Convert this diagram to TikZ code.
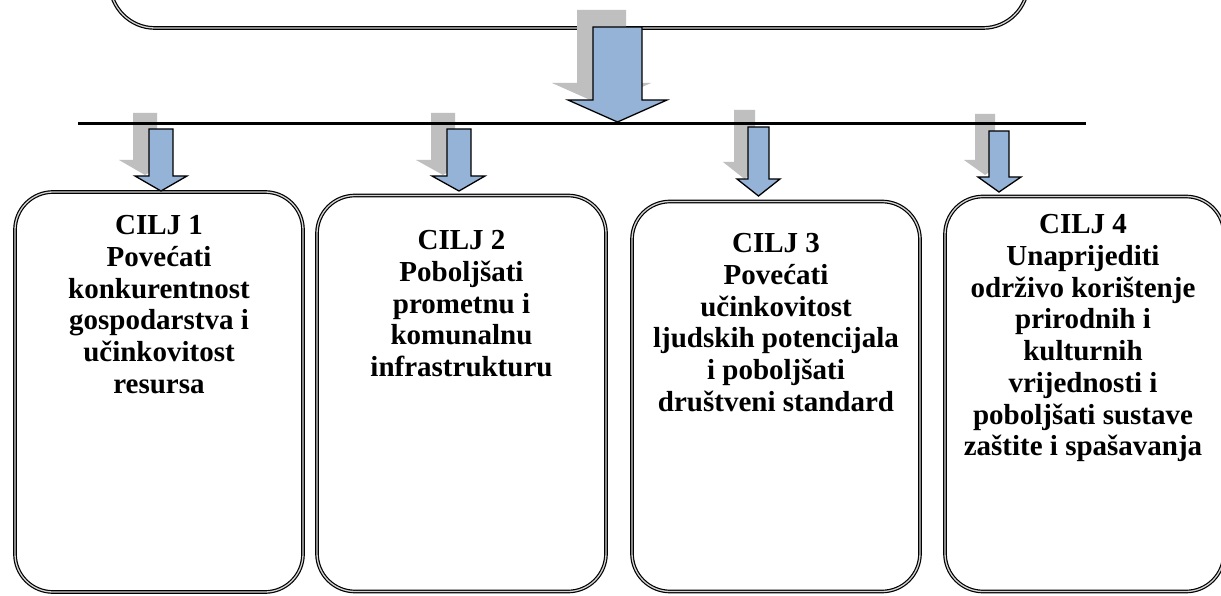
\documentclass[tikz,border=0pt]{standalone}
\usepackage{fontspec}
\setmainfont{Liberation Serif}
\definecolor{arrowblue}{HTML}{95B3D7}
\definecolor{shadowgray}{HTML}{BFBFBF}
\newcommand{\blockarrow}[8]{%
  \path[#1] (#2,#4) -- (#3,#4) -- (#3,#5) -- (#7,#5) -- ({(#2+#3)/2},#8) -- (#6,#5) -- (#2,#5) -- cycle;}
\begin{document}
\begin{tikzpicture}[x=1pt,y=-1pt,
  goalbox/.style={draw=black, line width=1.2pt, double=gray!35, double distance=1.3pt,
    rounded corners=38pt, rectangle, inner sep=0pt},
  bluearrow/.style={fill=arrowblue, draw=black, line width=1.3pt, line join=miter},
  shadowarrow/.style={fill=shadowgray, draw=none},
  goaltext/.style={anchor=north, align=center, inner sep=0pt,
    font=\bfseries\fontsize{29}{31.7}\selectfont}]
\useasboundingbox (0,0) rectangle (1221,596);
\fill[white] (0,0) rectangle (1221,596);
\clip (0,0) rectangle (1221,596);

% top box (only its lower part is visible)
\node[goalbox, rounded corners=45pt, minimum width=918pt, minimum height=226pt] (topbox) at (569,-85) {};

% goal boxes
\node[goalbox, minimum width=288pt, minimum height=400pt] (g1) at (159,392) {};
\node[goalbox, minimum width=289pt, minimum height=396pt] (g2) at (461.5,393.5) {};
\node[goalbox, minimum width=288pt, minimum height=390pt] (g3) at (776,396.5) {};
\node[goalbox, minimum width=279pt, minimum height=395pt] (g4) at (1084.5,394) {};

% texts
\node[goaltext] (t1) at (159,215.4) {CILJ 1\\Povećati\\konkurentnost\\gospodarstva i\\učinkovitost\\resursa};
\node[goaltext] (t2) at (461.5,230.4) {CILJ 2\\Poboljšati\\prometnu i\\komunalnu\\infrastrukturu};
\node[goaltext] (t3) at (776,233.4) {CILJ 3\\Povećati\\učinkovitost\\ljudskih potencijala\\i poboljšati\\društveni standard};
\node[goaltext] (t4) at (1083,214.4) {CILJ 4\\Unaprijediti\\održivo korištenje\\prirodnih i\\kulturnih\\vrijednosti i\\poboljšati sustave\\zaštite i spašavanja};

% main arrow
\blockarrow{shadowarrow, shift={(-16,-17)}}{593}{642}{27}{100}{568}{667}{122}
\blockarrow{bluearrow}{593}{642}{27}{100}{568}{667}{122}

% shadows of small arrows
\blockarrow{shadowarrow, shift={(-16,-16)}}{149}{173}{129}{176}{135}{187}{191}
\blockarrow{shadowarrow, shift={(-16,-16)}}{447}{471}{129}{176}{432}{485}{191}
\blockarrow{shadowarrow, shift={(-14,-17)}}{748}{769}{127}{179}{737}{780}{196}
\blockarrow{shadowarrow, shift={(-14,-17)}}{989}{1009}{131}{177}{978}{1021}{192}

% distribution line
\coordinate (lineL) at (78,124);
\coordinate (lineR) at (1086,124);
\draw[line width=3pt] (lineL) -- (lineR);

% small arrows
\blockarrow{bluearrow}{149}{173}{129}{176}{135}{187}{191}
\blockarrow{bluearrow}{447}{471}{129}{176}{432}{485}{191}
\blockarrow{bluearrow}{748}{769}{127}{179}{737}{780}{196}
\blockarrow{bluearrow}{989}{1009}{131}{177}{978}{1021}{192}
\end{tikzpicture}
\end{document}
